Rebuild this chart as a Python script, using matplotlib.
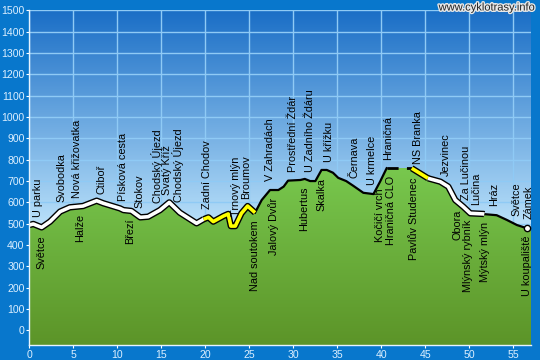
import numpy as np
import matplotlib
matplotlib.use("Agg")
import matplotlib.pyplot as plt
import matplotlib.patheffects as pe
from matplotlib.colors import to_rgb

plt.rcParams['font.family'] = ['Liberation Sans', 'DejaVu Sans']

# ---------------- data ----------------
km = [0, 0.45, 1.4, 2.35, 3.5, 4.6, 6.1, 7.65, 8.4, 10.3, 10.7, 11.6, 12.6, 13.5,
      14.85, 15.9, 17.1, 19.0, 19.8, 20.35, 20.9, 22.05, 22.6, 22.9, 23.4, 24.1,
      24.8, 25.65, 26.4, 27.35, 28.3, 28.9, 29.4, 30.8, 31.3, 31.9, 32.5, 33.2,
      33.8, 34.5, 35.1, 36.0, 36.8, 37.95, 39.1, 39.85, 40.6, 43.45, 45.3, 46.7,
      47.6, 48.4, 49.3, 50.1, 51.6, 51.7, 53.1, 54.25, 55.4, 56.3, 56.6]
elev = [494, 499, 483, 510, 557, 577, 583, 608, 596, 572, 564, 560, 530, 533,
        564, 600, 552, 502, 521, 530, 510, 536, 546, 489, 489, 549,
        583, 552, 611, 658, 658, 674, 702, 705, 710, 700, 700, 752,
        752, 739, 715, 700, 678, 645, 639, 697, 760, 760, 713, 697,
        674, 611, 580, 549, 546, 545, 540, 518, 494, 482, 482]

seg_start = [0, 19.8, 25.65, 40.6, 43.45, 45.3, 51.7]
seg_end = [19.8, 25.65, 40.6, 43.45, 45.3, 51.7, 56.6]
seg_kind = ['white', 'yellow', 'black', 'dashed', 'yellow', 'white', 'black']

above_names = ["U parku", "Svobodka", "Nová křižovatka", "Ctiboř", "Písková cesta",
               "Stokov", "Chodský Újezd", "Svatý Kříž", "Chodský Újezd",
               "Zadní Chodov", "Trnový mlýn", "Broumov", "V Zahradách",
               "Prostřední Ždár", "U Zadního Ždáru", "U křížku", "Černava",
               "U krmelce", "Hraničná", "NS Branka", "Jezvinec", "Za Lučinou",
               "Lučina", "Hráz", "Světce", "Zámek"]
above_km = [1.0, 3.6, 5.45, 8.2, 10.7, 12.5, 14.5, 15.7, 16.9, 20.2, 23.45, 24.6,
            27.35, 30.0, 31.9, 34.0, 37.0, 38.9, 40.8, 44.2, 47.35, 49.6, 50.8,
            52.8, 55.4, 56.7]
below_names = ["Světce", "Halže", "Březí", "Nad soutokem", "Jalový Dvůr",
               "Hubertus", "Skalka", "Kočičí vrch", "Hraničná CLO",
               "Pavlův Studenec", "Obora", "Mlýnský rybník", "Mýtský mlýn",
               "U koupaliště"]
below_km = [1.4, 5.75, 11.4, 25.65, 27.7, 31.25, 33.2, 39.9, 41.1, 43.7, 48.6,
            49.9, 51.8, 56.5]

x_ticks = list(range(0, 56, 5))
y_ticks = list(range(0, 1501, 100))
watermark = "www.cyklotrasy.info"

# ---------------- figure ----------------
BG = '#0877cc'
fig = plt.figure(figsize=(5.4, 3.6), dpi=100, facecolor=BG)
ax = fig.add_axes([0.0543, 0.0417, 0.929, 0.9297])
XMAX, YMIN, YMAX = 57, -68, 1500
ax.set_xlim(0, XMAX)
ax.set_ylim(YMIN, YMAX)

# sky gradient
ys = np.linspace(YMAX, YMIN, 400)
def grad_img(stops):
    pts = [s[0] for s in stops]
    cols = np.array([to_rgb(s[1]) for s in stops])
    img = np.zeros((len(ys), 1, 3))
    for c in range(3):
        img[:, 0, c] = np.interp(ys, pts, cols[:, c])
    return img

sky = grad_img([(450, '#c2e6fc'), (600, '#a8d4f4'), (1500, '#1a6ec6')])
ax.imshow(sky, extent=[0, XMAX, YMIN, YMAX], aspect='auto', zorder=0,
          interpolation='bilinear')

ax.set_axisbelow(True)
ax.grid(True, color='#8fcaf5', lw=1.0)

# ground
km_a = np.array(km)
el_a = np.array(elev)
poly_x = np.concatenate([[0], km_a, [XMAX, XMAX]])
poly_y = np.concatenate([[YMIN], el_a, [el_a[-1], YMIN]])
ground_patch = ax.fill(poly_x, poly_y, color='#6cb844', zorder=1, lw=0)[0]
ground = grad_img([(-68, '#5c9428'), (760, '#78c84e')])
gim = ax.imshow(ground, extent=[0, XMAX, YMIN, YMAX], aspect='auto', zorder=1.5,
                interpolation='bilinear')
gim.set_clip_path(ground_patch)

# profile segments
def seg_points(a, b):
    inner = (km_a > a) & (km_a < b)
    xs = np.concatenate([[a], km_a[inner], [b]])
    return xs, np.interp(xs, km_a, el_a)

for a, b, kind in zip(seg_start, seg_end, seg_kind):
    xs, yv = seg_points(a, b)
    if kind in ('white', 'yellow'):
        core = 'white' if kind == 'white' else '#ffff00'
        ax.plot(xs, yv, color='black', lw=4.6, solid_capstyle='butt',
                solid_joinstyle='round', zorder=3)
        ax.plot(xs, yv, color=core, lw=2.6, solid_capstyle='butt',
                solid_joinstyle='round', zorder=4)
    elif kind == 'black':
        ax.plot(xs, yv, color='black', lw=1.6, zorder=3)
    else:
        ax.plot(xs, yv, color='black', lw=2.0, zorder=3, dashes=(4, 3))

ax.plot([km_a[-1]], [el_a[-1]], 'o', ms=4.5, mfc='white', mec='black', mew=1,
        zorder=5)

# labels
for name, k in zip(above_names, above_km):
    yv = np.interp(k, km_a, el_a)
    ax.annotate(name, (k, yv), xytext=(0, 6.3), textcoords='offset points',
                rotation=90, ha='center', va='bottom', fontsize=7.8,
                color='black', zorder=6)
for name, k in zip(below_names, below_km):
    yv = np.interp(k, km_a, el_a)
    ax.annotate(name, (k, yv), xytext=(0, -5.5), textcoords='offset points',
                rotation=90, ha='center', va='top', fontsize=7.8,
                color='black', zorder=6)

# axes styling
ax.set_xticks(x_ticks)
ax.set_yticks(y_ticks)
ax.set_xticklabels([str(t) for t in x_ticks])
ax.set_yticklabels([str(t) for t in y_ticks])
ax.tick_params(axis='both', colors='white', labelcolor='#dcefff',
               labelsize=7.6, length=2.5, width=0.8, pad=1)
for s in ('top', 'right'):
    ax.spines[s].set_visible(False)
for s in ('left', 'bottom'):
    ax.spines[s].set_color('#e6f3ff')
    ax.spines[s].set_linewidth(1.0)
    ax.spines[s].set_zorder(7)

fig.text(0.991, 0.993, watermark, ha='right', va='top', fontsize=8,
         color='#222222',
         path_effects=[pe.withStroke(linewidth=2, foreground='#e8e8e8')])

fig.savefig("out.png", dpi=100, facecolor=BG)
